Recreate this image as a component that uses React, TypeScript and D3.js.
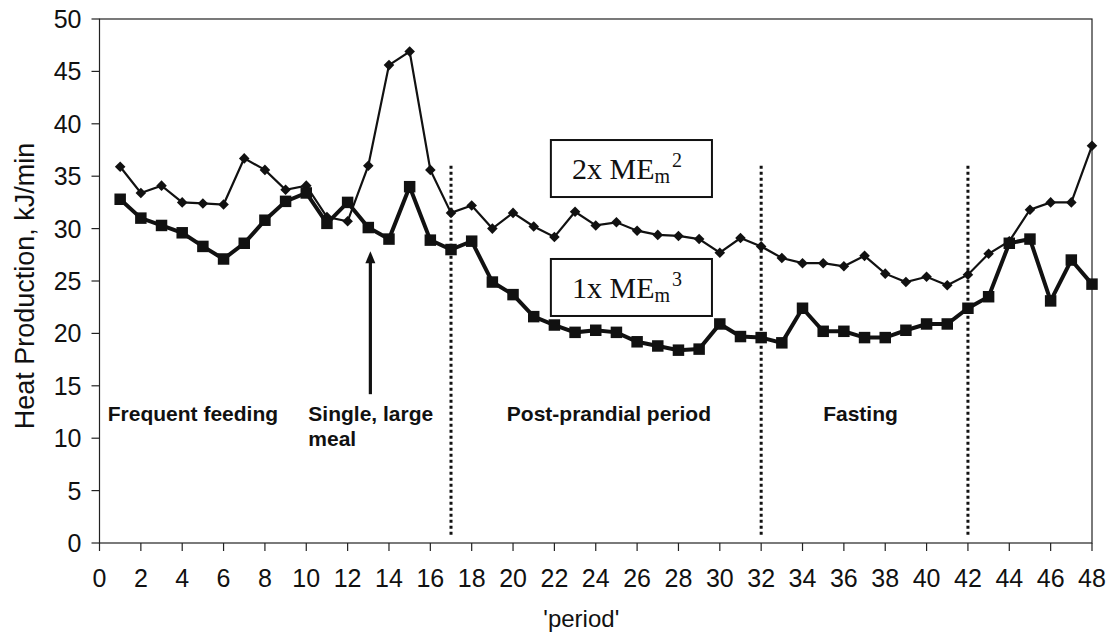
import * as d3 from "d3";

const periods = [
  1, 2, 3, 4, 5, 6, 7, 8, 9, 10, 11, 12, 13, 14, 15, 16, 17, 18, 19, 20, 21, 22, 23, 24,
  25, 26, 27, 28, 29, 30, 31, 32, 33, 34, 35, 36, 37, 38, 39, 40, 41, 42, 43, 44, 45, 46, 47, 48,
];

// 2x ME_m (diamonds)
const twoXME = [
  35.9, 33.4, 34.1, 32.5, 32.4, 32.3, 36.7, 35.6, 33.7, 34.1,
  31.1, 30.7, 36.0, 45.6, 46.9, 35.6, 31.5, 32.2, 30.0, 31.5,
  30.2, 29.2, 31.6, 30.3, 30.6, 29.8, 29.4, 29.3, 29.0, 27.7,
  29.1, 28.3, 27.2, 26.7, 26.7, 26.4, 27.4, 25.7, 24.9, 25.4,
  24.6, 25.6, 27.6, 28.8, 31.8, 32.5, 32.5, 37.9,
];

// 1x ME_m (squares)
const oneXME = [
  32.8, 31.0, 30.3, 29.6, 28.3, 27.1, 28.6, 30.8, 32.6, 33.4,
  30.5, 32.5, 30.1, 29.0, 34.0, 28.9, 28.0, 28.8, 24.9, 23.7,
  21.6, 20.8, 20.1, 20.3, 20.1, 19.2, 18.8, 18.4, 18.5, 20.9,
  19.7, 19.6, 19.1, 22.4, 20.2, 20.2, 19.6, 19.6, 20.3, 20.9,
  20.9, 22.4, 23.5, 28.6, 29.0, 23.1, 27.0, 24.7,
];

const xTicks = [0, 2, 4, 6, 8, 10, 12, 14, 16, 18, 20, 22, 24, 26, 28, 30, 32, 34, 36, 38, 40, 42, 44, 46, 48];
const yTicks = [0, 5, 10, 15, 20, 25, 30, 35, 40, 45, 50];
const phaseBreaks = [17, 32, 42];

const phaseLabels = [
  { lines: ["Frequent feeding"], x: 0.4, y: 11.6 },
  { lines: ["Single, large", "meal"], x: 10.1, y: 11.6 },
  { lines: ["Post-prandial period"], x: 19.7, y: 11.6 },
  { lines: ["Fasting"], x: 35.0, y: 11.6 },
];

const seriesLabels = [
  { text: "2x ME", sup: "2", y: 34.73 },
  { text: "1x ME", sup: "3", y: 23.38 },
];

const width = 1114;
const height = 634;
const margin = { top: 19, right: 22, bottom: 91, left: 99.5 };

const sans = "'Liberation Sans', Arial, sans-serif";
const serif = "'Liberation Serif', 'Times New Roman', serif";

export default function App() {
  const boundsWidth = width - margin.left - margin.right;
  const boundsHeight = height - margin.top - margin.bottom;

  const x = d3.scaleLinear().domain([0, 48]).range([0, boundsWidth]);
  const y = d3.scaleLinear().domain([0, 50]).range([boundsHeight, 0]);

  const line = d3
    .line<number>()
    .x((_, i) => x(periods[i]))
    .y((d) => y(d));

  const diamond = d3.symbol(d3.symbolSquare, 56)();
  const square = d3.symbol(d3.symbolSquare, 132)();

  const arrowX = x(13.1);
  const arrowTop = y(27.85);
  const arrowBottom = y(14.2);

  return (
    <svg
      width={width}
      height={height}
      style={{ position: "absolute", left: 0, top: 0, display: "block", background: "#fff" }}
    >
      <g transform={`translate(${margin.left}, ${margin.top})`}>
        {/* frame */}
        <rect x={0} y={0} width={boundsWidth} height={boundsHeight} fill="none" stroke="#222" strokeWidth={1.2} />

        {/* y axis */}
        {yTicks.map((t) => (
          <g key={t} transform={`translate(0, ${y(t)})`}>
            <line x1={-8} x2={0} stroke="#222" strokeWidth={1.2} />
            <text x={-18} dy="0.36em" textAnchor="end" fontFamily={sans} fontSize={25} fill="#111">
              {t}
            </text>
          </g>
        ))}

        {/* x axis */}
        {xTicks.map((t) => (
          <g key={t} transform={`translate(${x(t)}, ${boundsHeight})`}>
            <line y1={0} y2={8} stroke="#222" strokeWidth={1.2} />
            <text y={44} textAnchor="middle" fontFamily={sans} fontSize={25} fill="#111">
              {t}
            </text>
          </g>
        ))}

        <text
          x={x(23.3)}
          y={boundsHeight + 84}
          textAnchor="middle"
          fontFamily={sans}
          fontSize={24}
          fill="#111"
        >
          'period'
        </text>

        <text
          transform={`translate(${34 - margin.left}, ${286 - margin.top}) rotate(-90)`}
          textAnchor="middle"
          fontFamily={sans}
          fontSize={27}
          fill="#111"
        >
          Heat Production, kJ/min
        </text>

        {/* phase separators */}
        {phaseBreaks.map((b) => (
          <line
            key={b}
            x1={x(b)}
            x2={x(b)}
            y1={y(36)}
            y2={y(0.7)}
            stroke="#111"
            strokeWidth={3}
            strokeDasharray="3 3"
          />
        ))}

        {/* phase labels */}
        {phaseLabels.map((p) => (
          <text
            key={p.lines[0]}
            x={x(p.x)}
            y={y(p.y)}
            fontFamily={sans}
            fontWeight="bold"
            fontSize={21}
            fill="#111"
          >
            {p.lines.map((l, i) => (
              <tspan key={l} x={x(p.x)} dy={i === 0 ? 0 : 24.5}>
                {l}
              </tspan>
            ))}
          </text>
        ))}

        {/* arrow for the single meal */}
        <line x1={arrowX} x2={arrowX} y1={arrowBottom} y2={arrowTop + 10} stroke="#111" strokeWidth={3.2} />
        <path
          d={`M${arrowX},${arrowTop} L${arrowX - 5},${arrowTop + 12} L${arrowX + 5},${arrowTop + 12} Z`}
          fill="#111"
        />

        {/* series */}
        <path d={line(twoXME) ?? ""} fill="none" stroke="#111" strokeWidth={2.2} />
        {twoXME.map((v, i) => (
          <path
            key={`d${i}`}
            d={diamond}
            transform={`translate(${x(periods[i])}, ${y(v)}) rotate(45)`}
            fill="#111"
          />
        ))}

        <path d={line(oneXME) ?? ""} fill="none" stroke="#111" strokeWidth={4} />
        {oneXME.map((v, i) => (
          <path key={`s${i}`} d={square} transform={`translate(${x(periods[i])}, ${y(v)})`} fill="#111" />
        ))}

        {/* series labels */}
        {seriesLabels.map((s) => (
          <g key={s.sup}>
            <rect
              x={x(21.83)}
              y={y(s.y) - 39}
              width={x(29.62) - x(21.83)}
              height={57}
              fill="#fff"
              stroke="#111"
              strokeWidth={2}
            />
            <text x={x(22.85)} y={y(s.y)} fontFamily={serif} fontSize={30} fill="#111">
              {s.text}
              <tspan fontSize={20} dy={4}>
                m
              </tspan>
              <tspan fontSize={20} dy={-16} dx={2}>
                {s.sup}
              </tspan>
            </text>
          </g>
        ))}
      </g>
    </svg>
  );
}
